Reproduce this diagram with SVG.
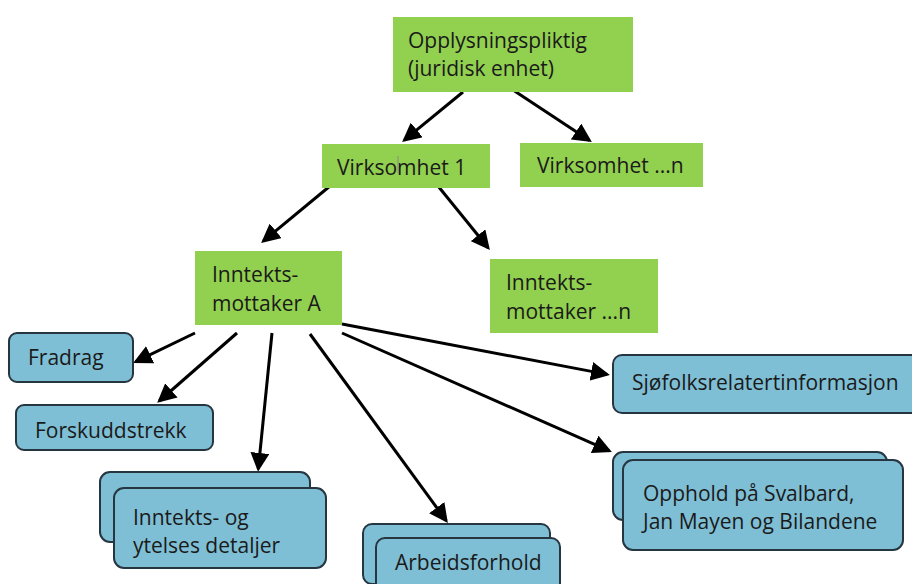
<svg xmlns="http://www.w3.org/2000/svg" width="912" height="584" viewBox="0 0 912 584">
<style>
.g{fill:#92d050}
.b{fill:#7fbfd5;stroke:#263640;stroke-width:2}
text{font-family:"Open Sans","Liberation Sans",sans-serif;font-size:21px;fill:#1a1a1a}
.c line{stroke:#000;stroke-width:3;marker-end:url(#ah)}
</style>
<defs>
<marker id="ah" viewBox="0 0 10 10" refX="8.5" refY="5" markerWidth="6.3" markerHeight="6.3" orient="auto">
<path d="M0,0 L10,5 L0,10 z" fill="#000"/>
</marker>
</defs>
<rect width="912" height="584" fill="#fff"/>
<g class="c" id="connectors">
<line x1="463" y1="92" x2="404.3" y2="140.1"/>
<line x1="510" y1="88" x2="589.5" y2="140.4"/>
<line x1="330" y1="186" x2="263.3" y2="241.1"/>
<line x1="438" y1="186" x2="488.1" y2="247.7"/>
<line x1="195" y1="333" x2="135.7" y2="361.7"/>
<line x1="237" y1="333" x2="159.3" y2="401"/>
<line x1="272" y1="333" x2="258.3" y2="469"/>
<line x1="310" y1="334" x2="446.2" y2="520.6"/>
<line x1="342" y1="324" x2="607.1" y2="374.4"/>
<line x1="342" y1="333" x2="609.3" y2="450.8"/>
</g>
<g id="opplysningspliktig">
<rect class="g" x="393" y="17" width="240" height="75"/>
<text x="408" y="48">Opplysningspliktig</text>
<text x="408" y="76">(juridisk enhet)</text>
</g>
<g id="virksomhet1">
<rect class="g" x="322" y="144" width="168" height="44"/>
<text x="337" y="175">Virksomhet 1</text>
<line x1="398" y1="156" x2="398" y2="173" stroke="#8a8a8a" stroke-width="1"/>
</g>
<g id="virksomhetn">
<rect class="g" x="520" y="143" width="183" height="44"/>
<text x="537" y="173">Virksomhet ...n</text>
</g>
<g id="inntektsmottakerA">
<rect class="g" x="195" y="251" width="147" height="74"/>
<text x="212" y="282">Inntekts-</text>
<text x="212" y="311">mottaker A</text>
</g>
<g id="inntektsmottakern">
<rect class="g" x="490" y="259" width="168" height="74"/>
<text x="506" y="290">Inntekts-</text>
<text x="506" y="319">mottaker ...n</text>
</g>
<g id="fradrag">
<rect class="b" x="9" y="333" width="124" height="49" rx="8"/>
<text x="28" y="365">Fradrag</text>
</g>
<g id="forskuddstrekk">
<rect class="b" x="16" y="405" width="197" height="45" rx="8"/>
<text x="35" y="438">Forskuddstrekk</text>
</g>
<g id="inntekts-og-ytelses">
<rect class="b" x="100" y="472" width="210" height="70" rx="10"/>
<rect class="b" x="114" y="488" width="212" height="80" rx="10"/>
<text x="133" y="525">Inntekts- og</text>
<text x="133" y="553">ytelses detaljer</text>
</g>
<g id="arbeidsforhold">
<rect class="b" x="363" y="524" width="187" height="60" rx="9"/>
<rect class="b" x="376" y="538" width="184" height="60" rx="9"/>
<text x="395" y="570">Arbeidsforhold</text>
</g>
<g id="sjofolk">
<rect class="b" x="613" y="355" width="310" height="58" rx="9"/>
<text x="632" y="390">Sjøfolksrelatertinformasjon</text>
</g>
<g id="opphold">
<rect class="b" x="613" y="452" width="274" height="68" rx="10"/>
<rect class="b" x="623" y="460" width="280" height="90" rx="10"/>
<text x="643" y="501">Opphold på Svalbard,</text>
<text x="643" y="529">Jan Mayen og Bilandene</text>
</g>
</svg>
